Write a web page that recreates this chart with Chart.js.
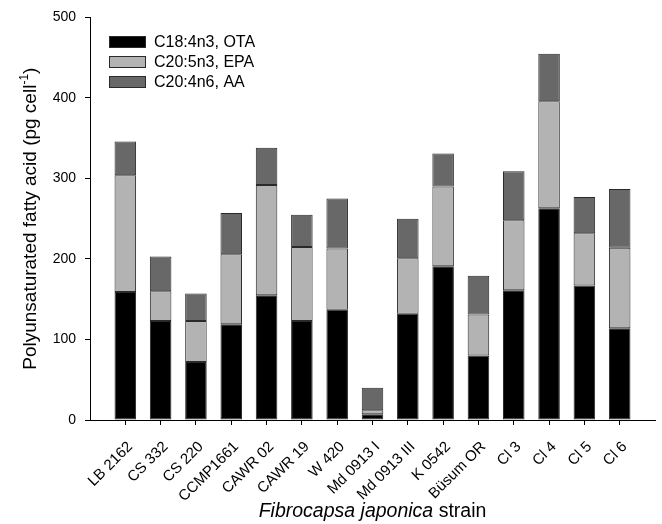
<!DOCTYPE html>
<html>
<head>
<meta charset="utf-8">
<script src="https://cdn.jsdelivr.net/npm/chart.js@4/dist/chart.umd.min.js"></script>
<style>
  html, body { margin: 0; padding: 0; background: #fff; }
  #wrap { width: 662px; height: 524px; }
</style>
</head>
<body>
<div id="wrap"><canvas id="myChart"></canvas></div>
<script>
const strains = ['LB 2162', 'CS 332', 'CS 220', 'CCMP1661', 'CAWR 02', 'CAWR 19', 'W 420',
    'Md 0913 I', 'Md 0913 III', 'K 0542', 'Büsum OR', 'Cl 3', 'Cl 4', 'Cl 5', 'Cl 6'];
const ota = [159, 123, 72, 119, 155, 123, 137, 7, 132, 191, 80, 161, 263, 167, 114];
const epa = [145, 37, 51, 87, 137, 92, 76, 5, 69, 99, 51, 87, 133, 65, 100];
const aa = [42, 43, 34, 51, 46, 40, 62, 28, 49, 41, 48, 61, 59, 45, 73];
const yTicks = [0, 100, 200, 300, 400, 500];

const FONT = '"Liberation Sans", Arial, sans-serif';
const ctx = document.getElementById('myChart');

// strains sit at x = 1..15, axis runs 0..16 so there is a full gap each side
const toPoints = (arr) => arr.map((v, i) => ({ x: i + 1, y: v }));

const mkSet = (label, arr, colour) => ({
    label: label,
    data: toPoints(arr),
    backgroundColor: colour,
    borderColor: '#2a2a2a',
    borderWidth: 1,
    borderSkipped: false,
    categoryPercentage: 1,
    barPercentage: 0.61
});

const extrasPlugin = {
    id: 'extras',
    afterDraw(chart) {
        const c = chart.ctx;
        const area = chart.chartArea;
        c.save();

        // legend in the upper left of the plot
        chart.data.datasets.forEach((ds, i) => {
            const y = 36 + i * 20;
            c.fillStyle = ds.backgroundColor;
            c.fillRect(109, y, 37, 12);
            c.strokeStyle = '#2a2a2a';
            c.lineWidth = 1;
            c.strokeRect(109.5, y + 0.5, 36, 11);
            c.fillStyle = '#000';
            c.font = '16px ' + FONT;
            c.textBaseline = 'middle';
            c.textAlign = 'left';
            c.fillText(ds.label, 154, y + 6.5);
        });

        // x title, species name in italics
        const part1 = 'Fibrocapsa japonica';
        const part2 = ' strain';
        c.font = 'italic 19.5px ' + FONT;
        const w1 = c.measureText(part1).width;
        c.font = '19.5px ' + FONT;
        const w2 = c.measureText(part2).width;
        let x0 = (area.left + area.right) / 2 - (w1 + w2) / 2;
        c.textBaseline = 'alphabetic';
        c.textAlign = 'left';
        c.font = 'italic 19.5px ' + FONT;
        c.fillText(part1, x0, 517);
        c.font = '19.5px ' + FONT;
        c.fillText(part2, x0 + w1, 517);

        // y title with superscript
        const main = 'Polyunsaturated fatty acid (pg cell';
        const sup = '-1';
        const tail = ')';
        c.font = '19px ' + FONT;
        const wm = c.measureText(main).width;
        const wt = c.measureText(tail).width;
        c.font = '12px ' + FONT;
        const ws = c.measureText(sup).width;
        const total = wm + ws + wt;
        c.translate(36, (area.top + area.bottom) / 2);
        c.rotate(-Math.PI / 2);
        let sx = -total / 2;
        c.font = '19px ' + FONT;
        c.fillText(main, sx, 0);
        c.font = '12px ' + FONT;
        c.fillText(sup, sx + wm, -8);
        c.font = '19px ' + FONT;
        c.fillText(tail, sx + wm + ws, 0);

        c.restore();
    }
};

const pufaChart = new Chart(ctx, {
    type: 'bar',
    data: {
        datasets: [
            mkSet('C18:4n3, OTA', ota, '#000000'),
            mkSet('C20:5n3, EPA', epa, '#b3b3b3'),
            mkSet('C20:4n6, AA', aa, '#686868')
        ]
    },
    options: {
        responsive: true,
        maintainAspectRatio: false,
        animation: false,
        layout: { padding: { top: 16, right: 7, left: 0, bottom: 0 } },
        plugins: {
            legend: { display: false },
            tooltip: { enabled: false }
        },
        scales: {
            x: {
                type: 'linear',
                stacked: true,
                offset: false,
                min: 0,
                max: strains.length + 1,
                afterBuildTicks: (scale) => {
                    scale.ticks = strains.map((s, i) => ({ value: i + 1 }));
                },
                afterFit: (scale) => { scale.height = 104; },
                ticks: {
                    autoSkip: false,
                    minRotation: 45,
                    maxRotation: 45,
                    padding: 13,
                    labelOffset: 5,
                    color: '#000',
                    font: { size: 15, family: FONT },
                    callback: (v) => strains[v - 1] || ''
                },
                grid: {
                    offset: false,
                    drawOnChartArea: false,
                    tickLength: 5,
                    color: '#000'
                },
                border: { color: '#000', width: 1 }
            },
            y: {
                stacked: true,
                min: 0,
                max: 500,
                afterBuildTicks: (scale) => {
                    scale.ticks = yTicks.map(v => ({ value: v }));
                },
                afterFit: (scale) => { scale.width = 90; },
                ticks: {
                    padding: 9,
                    color: '#000',
                    font: { size: 14, family: FONT }
                },
                grid: {
                    drawOnChartArea: false,
                    tickLength: 5,
                    color: '#000'
                },
                border: { color: '#000', width: 1 }
            }
        }
    },
    plugins: [extrasPlugin]
});
</script>
</body>
</html>
